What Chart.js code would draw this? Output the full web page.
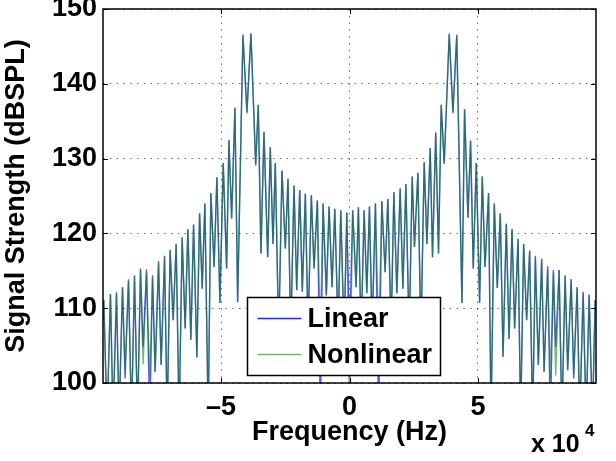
<!DOCTYPE html>
<html>
<head>
<meta charset="utf-8">
<title>Signal spectrum</title>
<script src="https://cdn.jsdelivr.net/npm/chart.js@4.4.1/dist/chart.umd.min.js"></script>
<style>
  html, body { margin: 0; padding: 0; background: #fff; }
  #wrap { width: 616px; height: 461px; }
</style>
</head>
<body>
<div id="wrap"><canvas id="spectrum" width="616" height="461"></canvas></div>
<script>
// Frequency of each peak / null (Hz)
const freqHz = [
  -96000, -95700, -94420, -93090, -92080, -90750, -89740, -88410, -87400, -86070,
  -84900, -83730, -82560, -81390, -80380, -79050, -77770, -76710, -75700, -74370,
  -73360, -72030, -71020, -69850, -68680, -67510, -66340, -65170, -64000, -62950,
  -61780, -60720, -59440, -58380, -57370, -56320, -55030, -53980, -52730, -51640,
  -50470, -49180, -47850, -46960, -45900, -44620, -43560, -41500, -39940, -38380,
  -36540, -35530, -34480, -33310, -31860, -30850, -29800, -28900, -27570, -26290,
  -25000, -23950, -22890, -21610, -20550, -19380, -18370, -17200, -16150, -14860,
  -13810, -12520, -11350, -10300, -9010, -7960, -6790, -5730, -4450, -3390,
  -2110, -1050, 0, 1250, 2570, 3470, 4520, 5690, 6750, 7760,
  8810, 10100, 11350, 12600, 13880, 14940, 16220, 17280, 18450, 19730,
  20790, 21960, 23240, 24410, 25310, 26640, 27810, 29090, 30150, 31430,
  32330, 33580, 34670, 35720, 36890, 38840, 40290, 41770, 43800, 44810,
  46140, 47150, 48200, 49370, 50660, 51710, 52770, 54170, 55110, 56390,
  57560, 58730, 59790, 61070, 62130, 63300, 64310, 65640, 66650, 67820,
  68990, 70160, 71330, 72380, 73550, 74840, 75780, 77180, 78230, 79400,
  80300, 81630, 82720, 83970, 84980, 86310, 87320, 88650, 89660, 90990,
  92160, 93330, 94610, 95670, 96000
];

// Linear model (dBSPL)
const linearDb = [
  108.5, 111.1, 95, 111.9, 95, 112.0, 95, 112.8, 100.6, 113.7,
  95, 114.4, 95, 115.3, 104.8, 115.2, 95, 114.4, 101.5, 116.3,
  102.4, 117.0, 95, 117.8, 108.4, 118.6, 95, 119.5, 107.3, 120.6,
  105.8, 121.2, 103.4, 122.7, 112.6, 124.0, 95, 125.4, 115.5, 127.5,
  110.7, 129.4, 115.3, 132.5, 122.0, 136.8, 110.8, 146.5, 136.2, 146.7,
  129.2, 137.2, 117.3, 133.6, 116.8, 131.5, 118.6, 129.4, 106.0, 128.4,
  118.0, 127.3, 106.0, 126.4, 112.4, 125.8, 112.2, 125.3, 107.0, 125.1,
  115.3, 124.4, 95, 124.0, 111.7, 123.6, 112.8, 123.3, 107.0, 123.1,
  106.0, 122.8, 106.0, 123.1, 112.8, 123.5, 106.0, 123.1, 112.0, 123.6,
  107.0, 124.0, 95, 124.3, 114.8, 124.6, 107.0, 125.5, 112.0, 126.0,
  112.6, 126.6, 106.0, 127.6, 118.2, 128.1, 106.0, 129.5, 118.6, 131.4,
  116.8, 133.5, 117.3, 137.2, 129.3, 146.6, 136.2, 146.5, 110.7, 136.6,
  122.1, 132.4, 115.3, 129.4, 110.7, 127.6, 115.5, 125.4, 95, 124.0,
  112.7, 122.7, 103.5, 121.3, 105.9, 120.6, 107.3, 119.3, 95, 118.6,
  108.4, 117.7, 95, 117.0, 102.4, 116.6, 101.5, 115.6, 95, 115.1,
  104.8, 115.1, 95, 114.4, 101.7, 113.9, 100.6, 112.8, 95, 112.2,
  95, 111.8, 95, 111.1, 109.5
];

// Nonlinear model (dBSPL)
const nonlinearDb = [
  108.5, 111.1, 95, 111.9, 95, 112.2, 95, 112.8, 101.8, 113.9,
  95, 114.2, 95, 115.0, 102.5, 114.8, 100.5, 114.0, 101.5, 115.9,
  102.4, 116.7, 95, 117.7, 108.4, 118.5, 95, 119.3, 107.3, 120.5,
  105.8, 121.2, 103.4, 122.7, 112.6, 124.0, 95, 125.4, 115.5, 127.5,
  110.7, 129.4, 115.3, 132.5, 122.0, 136.8, 110.8, 146.6, 136.0, 146.8,
  129.0, 137.2, 117.3, 133.6, 116.8, 131.5, 118.6, 129.4, 106.0, 128.4,
  118.0, 127.3, 106.0, 126.4, 112.4, 125.8, 112.2, 125.3, 107.0, 125.1,
  115.3, 124.4, 106.0, 124.0, 111.7, 123.6, 112.8, 123.3, 107.0, 123.1,
  106.0, 122.8, 95, 123.1, 112.8, 123.5, 106.0, 123.1, 112.0, 123.6,
  107.0, 124.0, 106.0, 124.3, 114.8, 124.6, 107.0, 125.5, 112.0, 126.0,
  112.6, 126.6, 106.0, 127.6, 118.2, 128.1, 106.0, 129.5, 118.6, 131.4,
  116.8, 133.5, 117.3, 137.2, 129.3, 146.8, 136.0, 146.6, 110.7, 136.6,
  122.1, 132.4, 115.3, 129.4, 110.7, 127.6, 115.5, 125.4, 95, 124.0,
  112.7, 122.7, 103.5, 121.3, 105.9, 120.6, 107.3, 119.2, 95, 118.5,
  108.4, 117.6, 95, 116.7, 102.4, 116.3, 101.5, 115.2, 100.5, 114.8,
  101.0, 115.1, 95, 114.2, 101.7, 113.7, 101.2, 112.8, 95, 112.0,
  95, 111.8, 95, 111.1, 109.5
];

const seriesNames = ["Linear", "Nonlinear"];
const xTickValues = [-50000, 0, 50000];   // shown as -5, 0, 5 (x 10^4)
const yTickValues = [100, 110, 120, 130, 140, 150];

const FONT = "'Liberation Sans', Arial, Helvetica, sans-serif";
const TICK_LEN = 5;

function toPoints(ys) {
  return freqHz.map((f, i) => ({ x: f, y: ys[i] }));
}

function tickLabel(v) {
  if (v === 0) return "0";
  return (v < 0 ? "\u2013" : "") + Math.abs(v / 1e4);
}

// box, inward ticks, legend and the x10^4 multiplier (MATLAB look)
const framePlugin = {
  id: "frame",
  afterDraw(chart) {
    const { ctx, chartArea: a, scales } = chart;
    ctx.save();
    ctx.strokeStyle = "#000";
    ctx.lineWidth = 1;
    ctx.beginPath();
    xTickValues.forEach(v => {
      const x = Math.round(scales.x.getPixelForValue(v)) + 0.5;
      ctx.moveTo(x, a.bottom); ctx.lineTo(x, a.bottom - TICK_LEN);
      ctx.moveTo(x, a.top); ctx.lineTo(x, a.top + TICK_LEN);
    });
    yTickValues.forEach(v => {
      const y = Math.round(scales.y.getPixelForValue(v)) + 0.5;
      ctx.moveTo(a.left, y); ctx.lineTo(a.left + TICK_LEN, y);
      ctx.moveTo(a.right, y); ctx.lineTo(a.right - TICK_LEN, y);
    });
    ctx.stroke();

    ctx.lineWidth = 1.5;
    ctx.strokeRect(a.left, a.top, a.right - a.left, a.bottom - a.top);

    // legend box
    const lx = 247.5, ly = 297.5, lw = 193, lh = 78;
    ctx.fillStyle = "#fff";
    ctx.fillRect(lx, ly, lw, lh);
    ctx.lineWidth = 1.5;
    ctx.strokeRect(lx, ly, lw, lh);
    ctx.font = "bold 27px " + FONT;
    ctx.textBaseline = "middle";
    ctx.textAlign = "left";
    chart.data.datasets.forEach((ds, i) => {
      const y = ly + 21 + i * 36;
      ctx.strokeStyle = ds.legendColor || ds.borderColor;
      ctx.lineWidth = 1.5;
      ctx.beginPath();
      ctx.moveTo(lx + 10, y); ctx.lineTo(lx + 54, y);
      ctx.stroke();
      ctx.fillStyle = "#000";
      ctx.fillText(ds.label, lx + 60, y + 1);
    });

    // exponent label
    ctx.fillStyle = "#000";
    ctx.textBaseline = "alphabetic";
    ctx.font = "bold 25px " + FONT;
    ctx.fillText("x 10", 531, 452);
    ctx.font = "bold 17px " + FONT;
    ctx.fillText("4", 585, 436);
    ctx.restore();
  }
};

function drawChart() {
  const ctx = document.getElementById("spectrum").getContext("2d");
  new Chart(ctx, {
    type: "line",
    data: {
      datasets: [
        {
          label: seriesNames[0],
          data: toPoints(linearDb),
          borderColor: "rgba(0,0,255,0.65)",
          legendColor: "rgba(0,0,255,0.85)",
          borderWidth: 1.4,
          pointRadius: 0,
          tension: 0,
          clip: 0,
          order: 2
        },
        {
          label: seriesNames[1],
          data: toPoints(nonlinearDb),
          borderColor: "rgba(0,128,0,0.55)",
          legendColor: "rgba(0,128,0,0.55)",
          borderWidth: 1.4,
          pointRadius: 0,
          tension: 0,
          clip: 0,
          order: 1
        }
      ]
    },
    options: {
      responsive: false,
      animation: false,
      devicePixelRatio: 1,
      events: [],
      layout: { padding: { top: 9, right: 20, left: 0, bottom: 0 } },
      plugins: {
        legend: { display: false },
        tooltip: { enabled: false }
      },
      scales: {
        x: {
          type: "linear",
          min: -96000,
          max: 96000,
          afterBuildTicks(s) { s.ticks = xTickValues.map(v => ({ value: v })); },
          afterFit(s) { s.height = 78; s.paddingLeft = 0; s.paddingRight = 0; },
          ticks: {
            callback: tickLabel,
            color: "#000",
            maxRotation: 0,
            padding: 8,
            font: { family: FONT, size: 27, weight: "bold" }
          },
          grid: { color: "rgba(0,0,0,0.6)", drawTicks: false },
          border: { display: false, dash: [1.5, 5.3] },
          title: {
            display: true,
            text: "Frequency (Hz)",
            color: "#000",
            padding: { top: 0, bottom: 12 },
            font: { family: FONT, size: 27, weight: "bold" }
          }
        },
        y: {
          min: 100,
          max: 150,
          afterBuildTicks(s) { s.ticks = yTickValues.map(v => ({ value: v })); },
          afterFit(s) { s.width = 103; s.paddingTop = 0; s.paddingBottom = 0; },
          ticks: {
            color: "#000",
            padding: 6,
            font: { family: FONT, size: 27, weight: "bold" }
          },
          grid: { color: "rgba(0,0,0,0.6)", drawTicks: false },
          border: { display: false, dash: [1.5, 5.3] },
          title: {
            display: true,
            text: "Signal Strength (dBSPL)",
            color: "#000",
            padding: { top: 0, bottom: 0 },
            font: { family: FONT, size: 27, weight: "bold" }
          }
        }
      }
    },
    plugins: [framePlugin]
  });
}

drawChart();
</script>
</body>
</html>
